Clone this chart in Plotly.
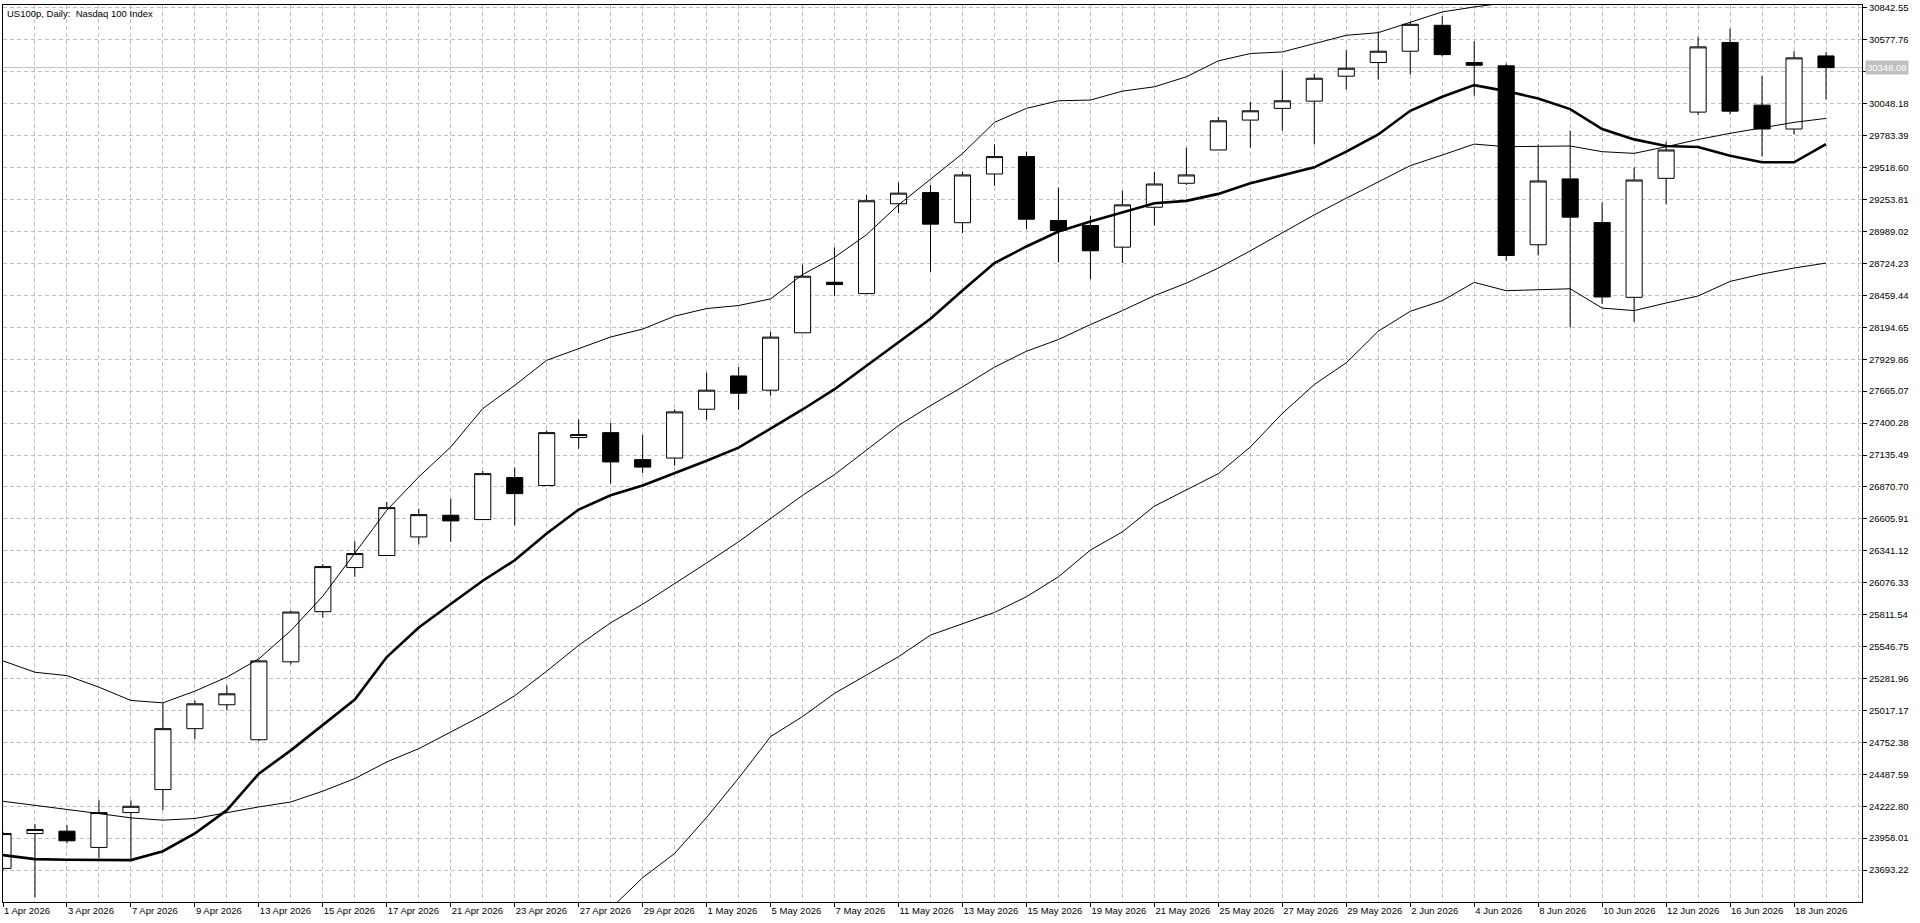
import plotly.graph_objects as go

# daily bars, US100p (Nasdaq 100)
dates = [
    "1 Apr 2026", "2 Apr 2026", "3 Apr 2026", "6 Apr 2026", "7 Apr 2026", "8 Apr 2026",
    "9 Apr 2026", "10 Apr 2026", "13 Apr 2026", "14 Apr 2026", "15 Apr 2026", "16 Apr 2026",
    "17 Apr 2026", "20 Apr 2026", "21 Apr 2026", "22 Apr 2026", "23 Apr 2026", "24 Apr 2026",
    "27 Apr 2026", "28 Apr 2026", "29 Apr 2026", "30 Apr 2026", "1 May 2026", "4 May 2026",
    "5 May 2026", "6 May 2026", "7 May 2026", "8 May 2026", "11 May 2026", "12 May 2026",
    "13 May 2026", "14 May 2026", "15 May 2026", "18 May 2026", "19 May 2026", "20 May 2026",
    "21 May 2026", "22 May 2026", "25 May 2026", "26 May 2026", "27 May 2026", "28 May 2026",
    "29 May 2026", "1 Jun 2026", "2 Jun 2026", "3 Jun 2026", "4 Jun 2026", "5 Jun 2026",
    "8 Jun 2026", "9 Jun 2026", "10 Jun 2026", "11 Jun 2026", "12 Jun 2026", "15 Jun 2026",
    "16 Jun 2026", "17 Jun 2026", "18 Jun 2026", "19 Jun 2026",
]

open_ = [
    23707, 23996, 24016, 23881, 24170, 24361, 24866, 25064, 24774, 25420,
    25836, 26202, 26302, 26456, 26636, 26600, 26948, 26882, 27280, 27321,
    27097, 27110, 27515, 27791, 27673, 28149, 28568, 28474, 29219, 29312,
    29062, 29466, 29610, 29080, 29039, 28859, 29190, 29389, 29665, 29913,
    30010, 30070, 30277, 30390, 30484, 30699, 30390, 30363, 28879, 29425,
    29063, 28443, 29430, 29979, 30556, 30037, 29839, 30445,
]
high = [
    24010, 24074, 24066, 24272, 24272, 25080, 25100, 25224, 25436, 25845,
    26231, 26420, 26746, 26691, 26774, 27003, 27031, 27340, 27429, 27404,
    27303, 27515, 27819, 27866, 28158, 28714, 28858, 29293, 29395, 29376,
    29486, 29712, 29651, 29353, 29119, 29328, 29485, 29684, 29940, 30065,
    30327, 30299, 30492, 30649, 30727, 30776, 30567, 30382, 29712, 29825,
    29229, 29521, 29734, 30602, 30672, 30280, 30484, 30478,
]
low = [
    23690, 23467, 23914, 23790, 23768, 24190, 24777, 25017, 24763, 25398,
    25786, 26125, 26300, 26395, 26415, 26598, 26553, 26880, 27188, 26898,
    26985, 27047, 27427, 27510, 27626, 28147, 28453, 28472, 29142, 28654,
    28976, 29367, 29008, 28732, 28595, 28727, 29039, 29375, 29663, 29684,
    29825, 29712, 30167, 30249, 30291, 30443, 30114, 28746, 28790, 28195,
    28388, 28239, 29215, 29954, 29960, 29610, 29795, 30084,
]
close = [
    23996, 24030, 23936, 24170, 24222, 24866, 25072, 25155, 25428, 25833,
    26210, 26318, 26699, 26641, 26589, 26981, 26815, 27321, 27305, 27078,
    27035, 27493, 27673, 27648, 28113, 28618, 28549, 29244, 29307, 29050,
    29458, 29610, 29091, 28997, 28829, 29210, 29383, 29458, 29907, 29990,
    30073, 30260, 30343, 30484, 30707, 30456, 30368, 28790, 29408, 29108,
    28446, 29416, 29665, 30520, 29987, 29839, 30429, 30348.09,
]

# thick moving average
ma_line = [
    23817, 23784, 23779, 23776, 23776, 23850, 23997, 24190, 24493, 24686,
    24898, 25108, 25460, 25705, 25900, 26093, 26262, 26484, 26683, 26802,
    26883, 26984, 27088, 27197, 27352, 27513, 27681, 27874, 28072, 28265,
    28500, 28727, 28865, 28989, 29072, 29146, 29223, 29243, 29301, 29389,
    29458, 29521, 29651, 29794, 29990, 30106, 30203, 30153, 30092, 30004,
    29839, 29753, 29698, 29690, 29618, 29563, 29563, 29714,
]

# bollinger bands (upper after 4 Jun and lower before 29 Apr run off the chart)
bb_upper = [
    25428, 25334, 25306, 25210, 25100, 25080, 25177, 25293, 25445, 25679,
    25965, 26318, 26677, 26954, 27202, 27520, 27713, 27921, 28017, 28114,
    28180, 28287, 28350, 28375, 28430, 28632, 28775, 28962, 29210, 29425,
    29635, 29894, 30010, 30073, 30079, 30153, 30189, 30272, 30404, 30465,
    30478, 30547, 30616, 30638, 30727, 30810, 30851, 30886, 30890, 30882,
    30948, 30941, 30988, 31050, 31031, 31062, 31102, 31127,
]
bb_middle = [
    24264, 24231, 24195, 24162, 24126, 24107, 24121, 24170, 24217, 24258,
    24348, 24452, 24590, 24700, 24838, 24977, 25139, 25343, 25557, 25744,
    25898, 26067, 26240, 26416, 26608, 26801, 26973, 27173, 27380, 27545,
    27700, 27864, 27996, 28093, 28217, 28333, 28457, 28561, 28686, 28829,
    28975, 29127, 29265, 29403, 29535, 29623, 29714, 29692, 29698, 29698,
    29651, 29637, 29692, 29752, 29803, 29849, 29894, 29927,
]
bb_lower = [
    23100, 23128, 23084, 23114, 23152, 23134, 23065, 23047, 22989, 22837,
    22731, 22586, 22503, 22446, 22474, 22434, 22565, 22765, 23097, 23374,
    23630, 23831, 24130, 24455, 24800, 24966, 25159, 25311, 25463, 25642,
    25733, 25830, 25960, 26125, 26347, 26498, 26711, 26843, 26981, 27202,
    27480, 27720, 27900, 28162, 28327, 28415, 28567, 28498, 28506, 28514,
    28354, 28333, 28396, 28454, 28575, 28636, 28686, 28727,
]

price_ticks = [
    "23693.22", "23958.01", "24222.80", "24487.59", "24752.38", "25017.17", "25281.96",
    "25546.75", "25811.54", "26076.33", "26341.12", "26605.91", "26870.70", "27135.49",
    "27400.28", "27665.07", "27929.86", "28194.65", "28459.44", "28724.23", "28989.02",
    "29253.81", "29518.60", "29783.39", "30048.18", "30312.97", "30577.76", "30842.55",
]
y_range = [23428.43, 30867.37]

FONT = "Liberation Sans"
GRID = "#c0c0c0"

idx = list(range(len(dates)))
last = close[-1]

# the tick under the current-price tag is hidden on the original, so leave its text out
tick_text = [t if abs(float(t) - last) > 100 else "" for t in price_ticks]

fig = go.Figure()
fig.add_trace(go.Candlestick(
    x=idx, open=open_, high=high, low=low, close=close,
    increasing=dict(line=dict(color="black", width=1), fillcolor="white"),
    decreasing=dict(line=dict(color="black", width=1), fillcolor="black"),
    whiskerwidth=0, hoverinfo="skip", showlegend=False,
))
for series, w in [(bb_upper, 1), (bb_middle, 1), (bb_lower, 1), (ma_line, 2.6)]:
    fig.add_trace(go.Scatter(x=idx, y=series, mode="lines",
                             line=dict(color="black", width=w),
                             hoverinfo="skip", showlegend=False))

# current price line + its label on the price scale
fig.add_shape(type="line", xref="paper", x0=0, x1=1, yref="y", y0=last, y1=last,
              line=dict(color=GRID, width=1), layer="below")
fig.add_annotation(xref="paper", x=1, y=last, xanchor="left", yanchor="middle", xshift=3,
                   text="%.2f" % last, showarrow=False, bgcolor=GRID, borderpad=1,
                   font=dict(family=FONT, size=9.5, color="white"))
fig.add_annotation(xref="paper", yref="paper", x=0, y=1, xanchor="left", yanchor="top",
                   xshift=2, yshift=-1, text="US100p, Daily:\u00a0 Nasdaq 100 Index",
                   showarrow=False, font=dict(family=FONT, size=9.5, color="black"))

fig.update_layout(
    width=1920, height=923,
    margin=dict(l=2, r=58, t=3, b=21),
    paper_bgcolor="white", plot_bgcolor="white",
    font=dict(family=FONT, size=9.5, color="black"),
    boxgap=0.28,
    showlegend=False,
    xaxis=dict(
        range=[0, 58.125], tickmode="array", tickvals=idx[::2], ticktext=dates[::2],
        ticks="outside", ticklen=4, tickcolor="black", ticklabelposition="outside right",
        showgrid=True, gridcolor=GRID, griddash="4px,3px", gridwidth=1,
        minor=dict(tickmode="linear", tick0=0, dtick=1, showgrid=True,
                   gridcolor=GRID, griddash="4px,3px", gridwidth=1),
        showline=True, linecolor="black", linewidth=1, mirror=True, zeroline=False,
        rangeslider=dict(visible=False), fixedrange=True,
    ),
    yaxis=dict(
        side="right", range=y_range, tickmode="array",
        tickvals=[float(t) for t in price_ticks], ticktext=tick_text,
        ticks="outside", ticklen=4, tickcolor="black",
        showgrid=True, gridcolor=GRID, griddash="4px,3px", gridwidth=1,
        showline=True, linecolor="black", linewidth=1, mirror=True, zeroline=False,
        fixedrange=True,
    ),
)

fig.write_html("out.html", config={"displayModeBar": False},
               post_script="document.body.style.margin='0';document.body.style.overflow='hidden';")
